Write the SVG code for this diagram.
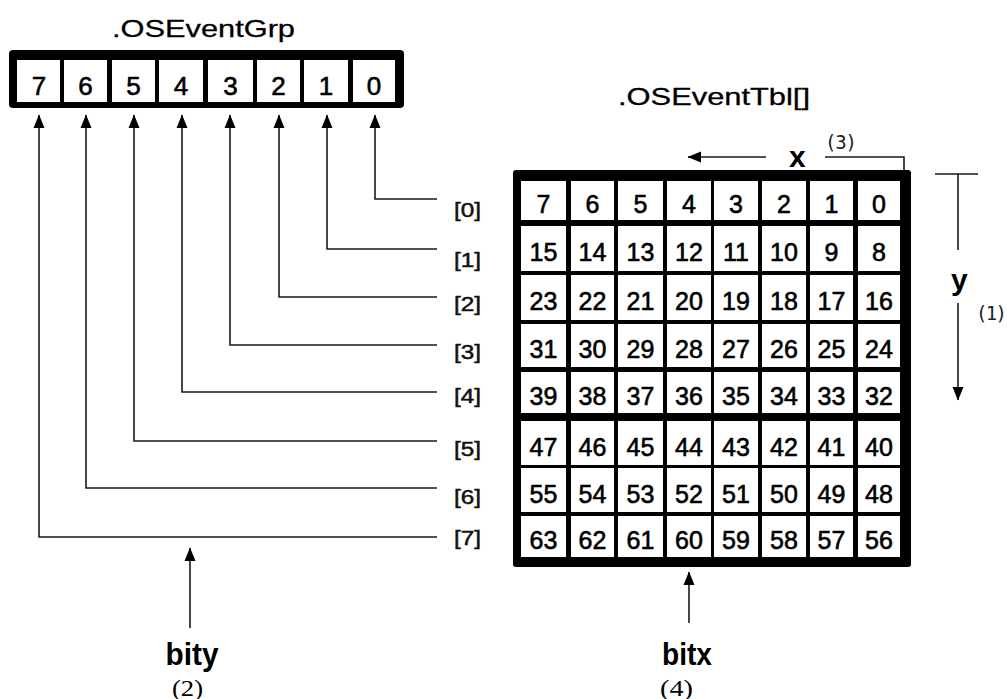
<svg xmlns="http://www.w3.org/2000/svg" width="1007" height="699" viewBox="0 0 1007 699">
<style>
.bg{fill:#fff}
.frame{fill:#000}
.cell{fill:#fff}
.title{font-family:"Liberation Sans",Arial,sans-serif;font-size:24px;fill:#000;stroke:#000;stroke-width:0.3}
.dg{font-family:"Liberation Sans",Arial,sans-serif;font-size:25px;fill:#000;stroke:#000;stroke-width:0.6;text-anchor:middle}
.dg2{font-family:"Liberation Sans",Arial,sans-serif;font-size:26px;fill:#000;stroke:#000;stroke-width:0.6;text-anchor:middle}
.idx{font-family:"Liberation Sans",Arial,sans-serif;font-size:20px;fill:#111;stroke:#111;stroke-width:0.5}
.big{font-family:"Liberation Sans",Arial,sans-serif;font-size:32px;font-weight:bold;fill:#000;text-anchor:middle}
.axis{font-family:"Liberation Sans",Arial,sans-serif;font-size:30px;font-weight:bold;fill:#000}
.num{font-family:"Liberation Serif","Times New Roman",serif;font-size:24px;fill:#000}
.mono{font-family:"DejaVu Sans Mono","Liberation Mono",monospace;font-size:19px;fill:#222}
.ln{fill:none;stroke:#1a1a1a;stroke-width:1.6}
</style>
<defs>
<marker id="ah" markerUnits="userSpaceOnUse" markerWidth="14" markerHeight="12" refX="13" refY="6" orient="auto">
<path d="M0,0.5 L13.5,6 L0,11.5 z" fill="#000"/>
</marker>
</defs>
<rect class="bg" x="0" y="0" width="1007" height="699"/>

<g id="osEventGrp">
<text class="title" x="112" y="37" textLength="183" lengthAdjust="spacingAndGlyphs">.OSEventGrp</text>
<rect class="frame" x="9" y="50" width="395" height="58" rx="4"/>
<rect class="cell" x="17" y="60" width="43" height="42"/>
<rect class="cell" x="64" y="60" width="43" height="42"/>
<rect class="cell" x="112" y="60" width="43" height="42"/>
<rect class="cell" x="159" y="60" width="44" height="42"/>
<rect class="cell" x="208" y="60" width="45" height="42"/>
<rect class="cell" x="257" y="60" width="43" height="42"/>
<rect class="cell" x="304" y="60" width="44" height="42"/>
<rect class="cell" x="353" y="60" width="42" height="42"/>
<text class="dg2" x="39" y="95">7</text>
<text class="dg2" x="85.5" y="95">6</text>
<text class="dg2" x="133.5" y="95">5</text>
<text class="dg2" x="181" y="95">4</text>
<text class="dg2" x="230.5" y="95">3</text>
<text class="dg2" x="278.5" y="95">2</text>
<text class="dg2" x="326" y="95">1</text>
<text class="dg2" x="374" y="95">0</text>
</g>

<g id="osEventTbl">
<text class="title" x="618" y="105" textLength="192" lengthAdjust="spacingAndGlyphs">.OSEventTbl[]</text>
<rect class="frame" x="513" y="170" width="398" height="397" rx="3"/>
<g id="cells">
<rect class="cell" x="521" y="181" width="45" height="39"/><rect class="cell" x="571" y="181" width="43" height="39"/><rect class="cell" x="618" y="181" width="45" height="39"/><rect class="cell" x="667" y="181" width="44" height="39"/><rect class="cell" x="714" y="181" width="44" height="39"/><rect class="cell" x="762" y="181" width="44" height="39"/><rect class="cell" x="810" y="181" width="43" height="39"/><rect class="cell" x="858" y="181" width="42" height="39"/>
<rect class="cell" x="521" y="226" width="45" height="45"/><rect class="cell" x="571" y="226" width="43" height="45"/><rect class="cell" x="618" y="226" width="45" height="45"/><rect class="cell" x="667" y="226" width="44" height="45"/><rect class="cell" x="714" y="226" width="44" height="45"/><rect class="cell" x="762" y="226" width="44" height="45"/><rect class="cell" x="810" y="226" width="43" height="45"/><rect class="cell" x="858" y="226" width="42" height="45"/>
<rect class="cell" x="521" y="275" width="45" height="45"/><rect class="cell" x="571" y="275" width="43" height="45"/><rect class="cell" x="618" y="275" width="45" height="45"/><rect class="cell" x="667" y="275" width="44" height="45"/><rect class="cell" x="714" y="275" width="44" height="45"/><rect class="cell" x="762" y="275" width="44" height="45"/><rect class="cell" x="810" y="275" width="43" height="45"/><rect class="cell" x="858" y="275" width="42" height="45"/>
<rect class="cell" x="521" y="324" width="45" height="43"/><rect class="cell" x="571" y="324" width="43" height="43"/><rect class="cell" x="618" y="324" width="45" height="43"/><rect class="cell" x="667" y="324" width="44" height="43"/><rect class="cell" x="714" y="324" width="44" height="43"/><rect class="cell" x="762" y="324" width="44" height="43"/><rect class="cell" x="810" y="324" width="43" height="43"/><rect class="cell" x="858" y="324" width="42" height="43"/>
<rect class="cell" x="521" y="372" width="45" height="41"/><rect class="cell" x="571" y="372" width="43" height="41"/><rect class="cell" x="618" y="372" width="45" height="41"/><rect class="cell" x="667" y="372" width="44" height="41"/><rect class="cell" x="714" y="372" width="44" height="41"/><rect class="cell" x="762" y="372" width="44" height="41"/><rect class="cell" x="810" y="372" width="43" height="41"/><rect class="cell" x="858" y="372" width="42" height="41"/>
<rect class="cell" x="521" y="421" width="45" height="44"/><rect class="cell" x="571" y="421" width="43" height="44"/><rect class="cell" x="618" y="421" width="45" height="44"/><rect class="cell" x="667" y="421" width="44" height="44"/><rect class="cell" x="714" y="421" width="44" height="44"/><rect class="cell" x="762" y="421" width="44" height="44"/><rect class="cell" x="810" y="421" width="43" height="44"/><rect class="cell" x="858" y="421" width="42" height="44"/>
<rect class="cell" x="521" y="468" width="45" height="44"/><rect class="cell" x="571" y="468" width="43" height="44"/><rect class="cell" x="618" y="468" width="45" height="44"/><rect class="cell" x="667" y="468" width="44" height="44"/><rect class="cell" x="714" y="468" width="44" height="44"/><rect class="cell" x="762" y="468" width="44" height="44"/><rect class="cell" x="810" y="468" width="43" height="44"/><rect class="cell" x="858" y="468" width="42" height="44"/>
<rect class="cell" x="521" y="516" width="45" height="41"/><rect class="cell" x="571" y="516" width="43" height="41"/><rect class="cell" x="618" y="516" width="45" height="41"/><rect class="cell" x="667" y="516" width="44" height="41"/><rect class="cell" x="714" y="516" width="44" height="41"/><rect class="cell" x="762" y="516" width="44" height="41"/><rect class="cell" x="810" y="516" width="43" height="41"/><rect class="cell" x="858" y="516" width="42" height="41"/>
</g>
<g id="values">
<text class="dg" x="543.5" y="213">7</text><text class="dg" x="592.5" y="213">6</text><text class="dg" x="640.5" y="213">5</text><text class="dg" x="689" y="213">4</text><text class="dg" x="736" y="213">3</text><text class="dg" x="784" y="213">2</text><text class="dg" x="831.5" y="213">1</text><text class="dg" x="879" y="213">0</text>
<text class="dg" x="543.5" y="261">15</text><text class="dg" x="592.5" y="261">14</text><text class="dg" x="640.5" y="261">13</text><text class="dg" x="689" y="261">12</text><text class="dg" x="736" y="261">11</text><text class="dg" x="784" y="261">10</text><text class="dg" x="831.5" y="261">9</text><text class="dg" x="879" y="261">8</text>
<text class="dg" x="543.5" y="310">23</text><text class="dg" x="592.5" y="310">22</text><text class="dg" x="640.5" y="310">21</text><text class="dg" x="689" y="310">20</text><text class="dg" x="736" y="310">19</text><text class="dg" x="784" y="310">18</text><text class="dg" x="831.5" y="310">17</text><text class="dg" x="879" y="310">16</text>
<text class="dg" x="543.5" y="358">31</text><text class="dg" x="592.5" y="358">30</text><text class="dg" x="640.5" y="358">29</text><text class="dg" x="689" y="358">28</text><text class="dg" x="736" y="358">27</text><text class="dg" x="784" y="358">26</text><text class="dg" x="831.5" y="358">25</text><text class="dg" x="879" y="358">24</text>
<text class="dg" x="543.5" y="405">39</text><text class="dg" x="592.5" y="405">38</text><text class="dg" x="640.5" y="405">37</text><text class="dg" x="689" y="405">36</text><text class="dg" x="736" y="405">35</text><text class="dg" x="784" y="405">34</text><text class="dg" x="831.5" y="405">33</text><text class="dg" x="879" y="405">32</text>
<text class="dg" x="543.5" y="455.5">47</text><text class="dg" x="592.5" y="455.5">46</text><text class="dg" x="640.5" y="455.5">45</text><text class="dg" x="689" y="455.5">44</text><text class="dg" x="736" y="455.5">43</text><text class="dg" x="784" y="455.5">42</text><text class="dg" x="831.5" y="455.5">41</text><text class="dg" x="879" y="455.5">40</text>
<text class="dg" x="543.5" y="502.5">55</text><text class="dg" x="592.5" y="502.5">54</text><text class="dg" x="640.5" y="502.5">53</text><text class="dg" x="689" y="502.5">52</text><text class="dg" x="736" y="502.5">51</text><text class="dg" x="784" y="502.5">50</text><text class="dg" x="831.5" y="502.5">49</text><text class="dg" x="879" y="502.5">48</text>
<text class="dg" x="543.5" y="549">63</text><text class="dg" x="592.5" y="549">62</text><text class="dg" x="640.5" y="549">61</text><text class="dg" x="689" y="549">60</text><text class="dg" x="736" y="549">59</text><text class="dg" x="784" y="549">58</text><text class="dg" x="831.5" y="549">57</text><text class="dg" x="879" y="549">56</text>
</g>
</g>

<g id="rowLabels">
<text class="idx" x="454" y="217" textLength="27" lengthAdjust="spacingAndGlyphs">[0]</text>
<text class="idx" x="454" y="267" textLength="27" lengthAdjust="spacingAndGlyphs">[1]</text>
<text class="idx" x="454" y="311" textLength="27" lengthAdjust="spacingAndGlyphs">[2]</text>
<text class="idx" x="454" y="359" textLength="27" lengthAdjust="spacingAndGlyphs">[3]</text>
<text class="idx" x="454" y="403" textLength="27" lengthAdjust="spacingAndGlyphs">[4]</text>
<text class="idx" x="454" y="456" textLength="27" lengthAdjust="spacingAndGlyphs">[5]</text>
<text class="idx" x="454" y="504" textLength="27" lengthAdjust="spacingAndGlyphs">[6]</text>
<text class="idx" x="454" y="545" textLength="27" lengthAdjust="spacingAndGlyphs">[7]</text>
</g>

<g id="connectors">
<path class="ln" d="M437,199 H375 V115" marker-end="url(#ah)"/>
<path class="ln" d="M437,249 H327 V115" marker-end="url(#ah)"/>
<path class="ln" d="M437,297 H279 V115" marker-end="url(#ah)"/>
<path class="ln" d="M437,345 H230 V115" marker-end="url(#ah)"/>
<path class="ln" d="M437,392 H182 V115" marker-end="url(#ah)"/>
<path class="ln" d="M437,441 H134 V115" marker-end="url(#ah)"/>
<path class="ln" d="M437,488 H86 V115" marker-end="url(#ah)"/>
<path class="ln" d="M437,537 H39 V115" marker-end="url(#ah)"/>
<path class="ln" d="M190,628 V548" marker-end="url(#ah)"/>
<path class="ln" d="M689,623 V572" marker-end="url(#ah)"/>
<path class="ln" d="M766,157 H688" marker-end="url(#ah)"/>
<path class="ln" d="M825,157 H904 V170"/>
<path class="ln" d="M935,174 H978 M958,174 V250"/>
<path class="ln" d="M958,303 V400" marker-end="url(#ah)"/>
</g>

<g id="axisLabels">
<text class="axis" x="789" y="167">x</text>
<text class="mono" x="825" y="149" textLength="32">(3)</text>
<text class="axis" x="951" y="290">y</text>
<text class="mono" x="976" y="320" textLength="31">(1)</text>
<text class="big" x="192" y="665" textLength="53" lengthAdjust="spacingAndGlyphs">bity</text>
<text class="num" x="172" y="696" textLength="31" lengthAdjust="spacingAndGlyphs">(2)</text>
<text class="big" x="687" y="665" textLength="50" lengthAdjust="spacingAndGlyphs">bitx</text>
<text class="num" x="660" y="696" textLength="33" lengthAdjust="spacingAndGlyphs">(4)</text>
</g>
</svg>
